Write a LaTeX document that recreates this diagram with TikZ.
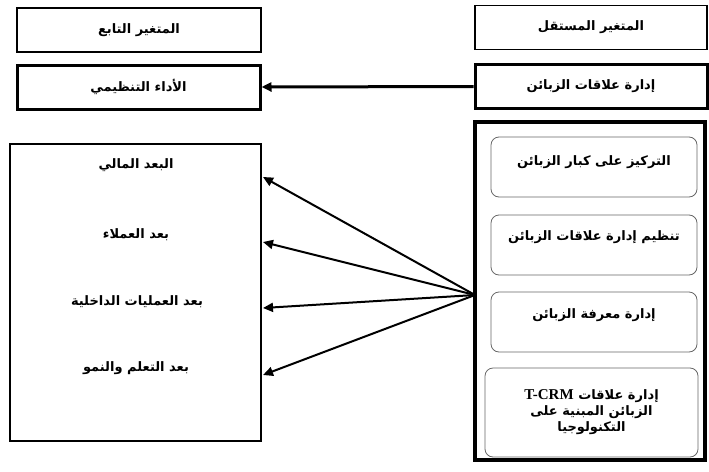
\documentclass[tikz,border=0pt]{standalone}
\usepackage{fontspec}
\setmainfont{Liberation Serif}
\newfontfamily\arabicfont[Script=Arabic]{DejaVu Sans}
\TeXXeTstate=1
\usetikzlibrary{arrows.meta, positioning}

\begin{document}
\begin{tikzpicture}[
  x=1pt, y=-1pt,
  every node/.style={font=\arabicfont\bfseries\fontsize{13}{18}\selectfont},
  headbox/.style={rectangle, draw=black, line width=1.6pt, minimum height=44pt},
  varbox/.style={rectangle, draw=black, line width=3pt, minimum height=44pt},
  groupbox/.style={rectangle, draw=black, line width=2.5pt},
  dimbox/.style={rectangle, draw=black!60, line width=0.8pt, rounded corners=8pt,
                 minimum width=206pt, minimum height=60pt},
  arrow/.style={-{Triangle[length=10pt, width=9pt]}, line width=2pt, black}
]
  \useasboundingbox (0,0) rectangle (709,471);

  % Headings
  \node[headbox, minimum width=244pt] (dep) at (139,30) {\beginR المتغير التابع\endR};
  \node[headbox, minimum width=232pt] (indep) at (591,27.5) {\beginR المتغير المستقل\endR};

  % Main variables
  \node[varbox, minimum width=243pt] (perf) at (138.5,87) {\beginR الأداء التنظيمي\endR};
  \node[varbox, minimum width=232pt] (crm) at (591,86.5) {\beginR إدارة علاقات الزبائن\endR};

  % Dependent dimensions (left)
  \node[groupbox, minimum width=251pt, minimum height=297pt] (dims) at (135.5,292.5) {};
  \node (fin) at (136,165) {\beginR البعد المالي\endR};
  \node (cust) at (136,235) {\beginR بعد العملاء\endR};
  \node (proc) at (137,302) {\beginR بعد العمليات الداخلية\endR};
  \node (learn) at (136,368) {\beginR بعد التعلم والنمو\endR};

  % Independent dimensions (right)
  \node[groupbox, line width=3.5pt, minimum width=230pt, minimum height=338pt] (crmdims) at (590,291) {};
  \node[dimbox] (focus) at (594,167) {};
  \node[dimbox] (org) at (594,245) {};
  \node[dimbox] (know) at (594,322) {};
  \node (focustext) at ([yshift=-26pt]focus.north) {\beginR التركيز على كبار الزبائن\endR};
  \node (orgtext) at ([yshift=-23pt]org.north) {\beginR تنظيم إدارة علاقات الزبائن\endR};
  \node (knowtext) at ([yshift=-24pt]know.north) {\beginR إدارة معرفة الزبائن\endR};
  \node[dimbox, minimum width=213pt, minimum height=89pt, align=center] (tech) at (591.5,412.5)
    {\beginR إدارة علاقات \beginL{\rmfamily\bfseries\fontsize{15}{18}\selectfont T-CRM}\endL\endR\\[-2pt]
     \beginR الزبائن المبنية على\endR\\[-2pt]
     \beginR التكنولوجيا\endR};

  % Arrow ends
  \coordinate (hub) at (475,295);
  \coordinate (t1) at (263,177);
  \coordinate (t2) at (263,242);
  \coordinate (t3) at (263,308);
  \coordinate (t4) at (263,375);

  % Arrows
  \draw[arrow, line width=3pt] (crm.west) -- (perf.east);
  \foreach \t in {t1,t2,t3,t4}
    \draw[arrow] (hub) -- (\t);
\end{tikzpicture}
\end{document}
